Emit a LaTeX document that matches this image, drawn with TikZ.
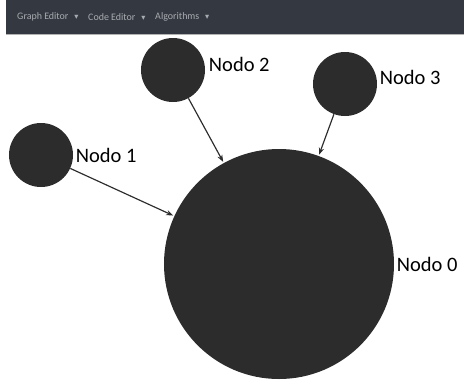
\documentclass[tikz,border=0pt]{standalone}
\usepackage{fontspec}
\setmainfont{Carlito}
\newfontfamily\symfont{DejaVu Sans}
\usepackage{tikz}
\usetikzlibrary{arrows.meta,positioning}

\definecolor{barcol}{HTML}{343840}
\definecolor{nodecol}{HTML}{2C2C2C}
\definecolor{menucol}{HTML}{A8ABB0}

\begin{document}
\begin{tikzpicture}[x=0.03cm, y=-0.03cm]
    % Stili
    \tikzset{
        vertex/.style={circle, fill=nodecol, draw=none, inner sep=0pt, minimum size=1.92cm},
        bigvertex/.style={vertex, minimum size=6.9cm},
        lbl/.style={inner sep=0pt, font=\fontsize{17.5}{20}\selectfont, text=black},
        menu/.style={inner sep=0pt, anchor=west, font=\fontsize{8.5}{10}\selectfont, text=menucol},
        edge/.style={-{Stealth[length=6pt, width=4.5pt]}, line width=1pt, draw=nodecol, shorten >=1pt}
    }
    \useasboundingbox (0,0) rectangle (464,379);

    % Barra del menu
    \fill[barcol] (6,0) rectangle (464,34);
    \draw[gray!60, line width=0.6pt] (6,34) -- (464,34);
    \node[menu] (m1) at (17,17) {Graph Editor\hspace{5pt}{\symfont\scriptsize ▾}};
    \node[menu] (m2) at (88,17) {Code Editor\hspace{5pt}{\symfont\scriptsize ▾}};
    \node[menu] (m3) at (155,17) {Algorithms\hspace{5pt}{\symfont\scriptsize ▾}};

    % Nodi
    \node[bigvertex] (n0) at (279,264) {};
    \node[vertex] (n1) at (41,155) {};
    \node[vertex] (n2) at (173,70) {};
    \node[vertex] (n3) at (345,84) {};

    % Etichette
    \node[lbl, right=2pt of n0.east, anchor=west] (l0) {Nodo 0};
    \node[lbl, right=2pt of n1.east, anchor=west] (l1) {Nodo 1};
    \node[lbl, right=3pt of n2.east, anchor=west, yshift=0.18cm] (l2) {Nodo 2};
    \node[lbl, right=2pt of n3.east, anchor=west, yshift=0.2cm] (l3) {Nodo 3};

    % Archi
    \foreach \i in {1,2,3} {
        \draw[edge] (n\i) -- (n0);
    }
\end{tikzpicture}
\end{document}
